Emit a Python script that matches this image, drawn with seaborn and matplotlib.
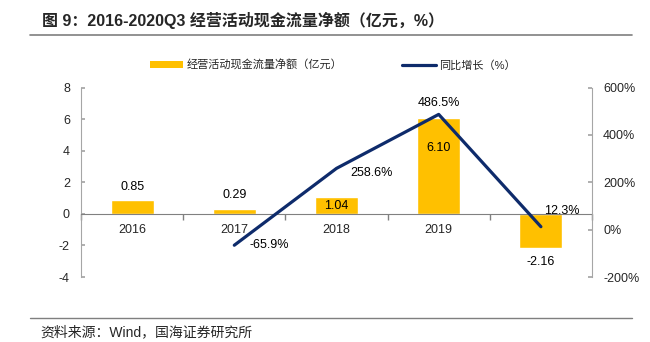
import matplotlib
matplotlib.use("Agg")
import matplotlib.pyplot as plt
import seaborn as sns
import pandas as pd
import numpy as np
from matplotlib.lines import Line2D
from matplotlib.patches import Patch

categories = ["2016", "2017", "2018", "2019", "2020Q3"]
cash_flow = [0.85, 0.29, 1.04, 6.10, -2.16]
growth_categories = ["2017", "2018", "2019", "2020Q3"]
growth = [-65.9, 258.6, 486.5, 12.3]
left_ticks = [-4, -2, 0, 2, 4, 6, 8]
right_ticks = [-200, 0, 200, 400, 600]

sns.set_theme(style="white")
plt.rcParams["font.family"] = ["Liberation Sans", "Noto Sans CJK SC", "DejaVu Sans"]

BAR = "#FFC000"
LINE = "#0E2B6B"
GRAY = "#A6A6A6"

fig = plt.figure(figsize=(6.5, 3.42), dpi=100)
ax = fig.add_axes([81/650, 65/342, 511/650, 189.5/342])

df = pd.DataFrame({"cat": categories, "val": cash_flow})
sns.barplot(data=df, x="cat", y="val", order=categories, color=BAR,
            width=0.42, saturation=1, ax=ax, zorder=1)
ax.set_xlim(-0.5, len(categories) - 0.5)
ax.set_ylim(-4, 8)
ax.set_yticks(left_ticks)
ax.set_yticklabels([str(t) for t in left_ticks], fontsize=9)
ax.set_xlabel("")
ax.set_ylabel("")

for s in ["top", "right"]:
    ax.spines[s].set_visible(False)
ax.spines["left"].set_color(GRAY)
ax.spines["left"].set_linewidth(0.8)
ax.spines["bottom"].set_position(("data", 0))
ax.spines["bottom"].set_color("#808080")
ax.spines["bottom"].set_linewidth(0.8)
ax.tick_params(axis="y", direction="in", length=3, color=GRAY, pad=8, labelsize=9, left=True)
ax.set_xticks(range(len(categories)))
ax.set_xticklabels(categories, fontsize=9)
ax.set_xticks(np.arange(-0.5, len(categories), 1.0), minor=True)
ax.tick_params(axis="x", which="major", length=0, pad=7, labelsize=9)
ax.tick_params(axis="x", which="minor", length=4, direction="out", color="#808080", bottom=True)
ax.grid(False)

# bar labels
bar_offsets = {"2016": (0, 5, "bottom"), "2017": (0, 6, "bottom"), "2018": (0, -6, "center"),
               "2019": (0, -22, "center"), "2020Q3": (0, -6, "top")}
for c, v in zip(categories, cash_flow):
    dx, dy, va = bar_offsets[c]
    ax.annotate(f"{v:.2f}", xy=(categories.index(c), v), xytext=(dx, dy),
                textcoords="offset points", ha="center", va=va, fontsize=9, color="black")

ax2 = ax.twinx()
gdf = pd.DataFrame({"x": [categories.index(c) for c in growth_categories], "g": growth})
sns.lineplot(data=gdf, x="x", y="g", color=LINE, linewidth=2.3, ax=ax2, zorder=3)
ax2.set_ylim(-200, 600)
ax2.set_yticks(right_ticks)
ax2.set_yticklabels([f"{t}%" for t in right_ticks], fontsize=9)
ax2.set_xlim(-0.5, len(categories) - 0.5)
ax2.set_xlabel("")
ax2.set_ylabel("")
for s in ["top", "left", "bottom"]:
    ax2.spines[s].set_visible(False)
ax2.spines["right"].set_color(GRAY)
ax2.spines["right"].set_linewidth(0.8)
ax2.tick_params(axis="y", direction="in", length=3, color=GRAY, pad=8, labelsize=9, right=True)
ax2.grid(False)

line_offsets = {"2017": (11, 0, "left", "center"), "2018": (10, -3, "left", "center"),
                "2019": (0, 4, "center", "bottom"), "2020Q3": (2, 7, "left", "bottom")}
for c, g in zip(growth_categories, growth):
    dx, dy, ha, va = line_offsets[c]
    ax2.annotate(f"{g:.1f}%", xy=(categories.index(c), g), xytext=(dx, dy),
                 textcoords="offset points", ha=ha, va=va, fontsize=9, color="black")

handles = [Patch(facecolor=BAR, edgecolor="none", label="经营活动现金流量净额（亿元）"),
           Line2D([0], [0], color=LINE, linewidth=2.3, label="同比增长（%）")]
fig.legend(handles=handles, loc="center", bbox_to_anchor=(0.512, 1 - 65/342), ncol=2,
           frameon=False, fontsize=8, handlelength=3.0, handleheight=0.5,
           columnspacing=5.4, handletextpad=0.3)

fig.text(42/650, 1 - 20/342, "图 9：2016-2020Q3 经营活动现金流量净额（亿元，%）",
         fontsize=11.5, fontweight="bold", ha="left", va="center")
fig.add_artist(Line2D([30/650, 632/650], [1 - 35/342, 1 - 35/342], color="#7F7F7F", linewidth=1.2))
fig.add_artist(Line2D([30/650, 632/650], [1 - 318/342, 1 - 318/342], color="#7F7F7F", linewidth=1.0))
fig.text(40/650, 1 - 332/342, "资料来源：Wind，国海证券研究所", fontsize=10, ha="left", va="center")

fig.savefig("out.png", dpi=100)
